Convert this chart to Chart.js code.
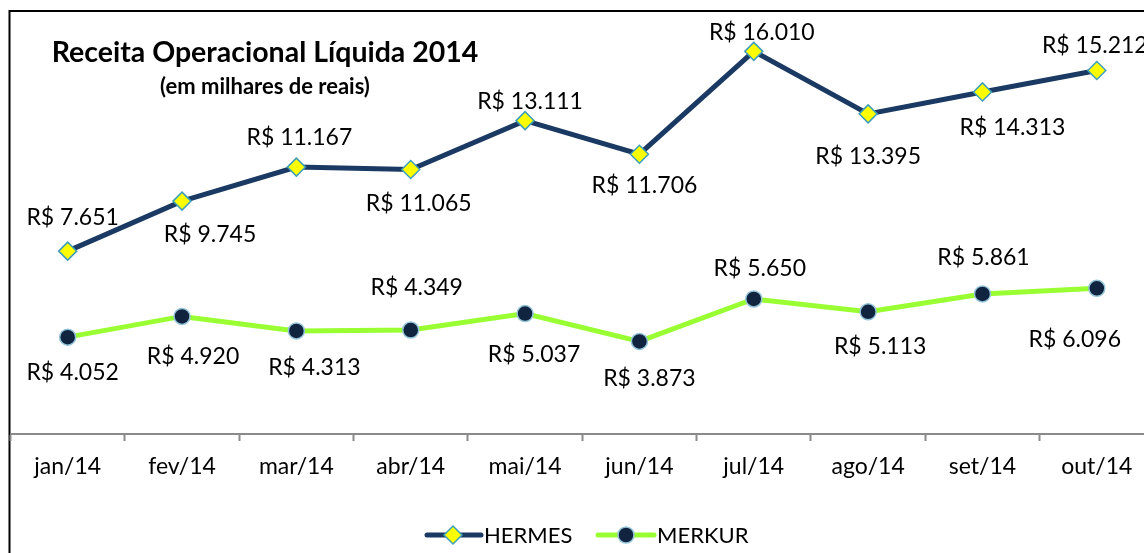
<!DOCTYPE html>
<html>
<head>
<meta charset="utf-8">
<script src="https://cdn.jsdelivr.net/npm/chart.js@4.4.1/dist/chart.umd.min.js"></script>
<style>
  html, body { margin: 0; padding: 0; background: #fff; overflow: hidden; width: 1144px; height: 553px; }
  #wrap { position: absolute; left: 0; top: 0; width: 1170px; height: 600px; }
</style>
</head>
<body>
<div id="wrap"><canvas id="c" width="1170" height="600"></canvas></div>
<script>
// ---- data ----
const categories = ['jan/14','fev/14','mar/14','abr/14','mai/14','jun/14','jul/14','ago/14','set/14','out/14'];
const hermes = [7651, 9745, 11167, 11065, 13111, 11706, 16010, 13395, 14313, 15212];
const merkur = [4052, 4920, 4313, 4349, 5037, 3873, 5650, 5113, 5861, 6096];
const seriesNames = ['HERMES', 'MERKUR'];
const titleText = 'Receita Operacional Líquida 2014';
const subtitleText = '(em milhares de reais)';

// ---- label placement (layout only) ----
const hermesLabelOffsets = [[5,-34],[28,33],[3,-30],[8,34],[5,-19],[5,31],[8,-19],[0,43],[30,36],[-2,-25]];
const merkurLabelOffsets = [[5,35],[11,40],[18,37],[6,-42],[9,41],[10,37],[6,-30],[12,35],[1,-36],[-22,51]];

const FONT = 'Lato, "Open Sans", sans-serif';

function fmt(v) {
  return 'R$ ' + v.toLocaleString('de-DE');
}

const decorPlugin = {
  id: 'decor',
  beforeDraw(chart) {
    const ctx = chart.ctx;
    ctx.save();
    ctx.fillStyle = '#fff';
    ctx.fillRect(0, 0, chart.width, chart.height);
    ctx.strokeStyle = '#000';
    ctx.lineWidth = 2;
    ctx.strokeRect(9.5, 11, 1300, 800);
    ctx.restore();
  },
  afterDraw(chart) {
    const ctx = chart.ctx;
    ctx.save();
    // title
    ctx.fillStyle = '#000';
    ctx.textAlign = 'center';
    ctx.textBaseline = 'middle';
    ctx.font = 'bold 28.5px ' + FONT;
    ctx.fillText(titleText, 265, 53);
    ctx.font = 'bold 22px ' + FONT;
    ctx.fillText(subtitleText, 265, 87);

    // data labels
    ctx.font = '23px ' + FONT;
    const offs = [hermesLabelOffsets, merkurLabelOffsets];
    chart.data.datasets.forEach((ds, di) => {
      const meta = chart.getDatasetMeta(di);
      meta.data.forEach((pt, i) => {
        const o = offs[di][i];
        ctx.fillText(fmt(ds.data[i]), pt.x + o[0], pt.y + o[1]);
      });
    });

    // legend
    const ly = 535;
    const items = [
      {x0: 427, x1: 481, mx: 453, tx: 484, ds: chart.data.datasets[0]},
      {x0: 598, x1: 654, mx: 626, tx: 657, ds: chart.data.datasets[1]}
    ];
    items.forEach(it => {
      ctx.strokeStyle = it.ds.borderColor;
      ctx.lineWidth = it.ds.borderWidth;
      ctx.lineCap = 'round';
      ctx.beginPath();
      ctx.moveTo(it.x0, ly);
      ctx.lineTo(it.x1, ly);
      ctx.stroke();
      ctx.fillStyle = it.ds.pointBackgroundColor;
      ctx.strokeStyle = it.ds.pointBorderColor;
      ctx.lineWidth = it.ds.pointBorderWidth;
      Chart.helpers.drawPoint(ctx, {pointStyle: it.ds.pointStyle, radius: it.ds.pointRadius, rotation: 0, borderWidth: it.ds.pointBorderWidth}, it.mx, ly);
      ctx.fillStyle = '#000';
      ctx.textAlign = 'left';
      ctx.font = '22px ' + FONT;
      ctx.fillText(it.ds.label, it.tx, ly + 1);
    });
    ctx.restore();
  }
};

new Chart(document.getElementById('c'), {
  type: 'line',
  data: {
    labels: categories,
    datasets: [
      {
        label: seriesNames[0],
        data: hermes,
        borderColor: '#1B3A63',
        borderWidth: 5,
        pointStyle: 'rectRot',
        pointRadius: 9,
        pointBackgroundColor: '#FFFF00',
        pointBorderColor: '#3E9EBA',
        pointBorderWidth: 1.5,
        pointHoverRadius: 9,
        tension: 0
      },
      {
        label: seriesNames[1],
        data: merkur,
        borderColor: '#99FF33',
        borderWidth: 5,
        pointStyle: 'circle',
        pointRadius: 8,
        pointBackgroundColor: '#10243F',
        pointBorderColor: '#93C3D8',
        pointBorderWidth: 1.5,
        pointHoverRadius: 8,
        tension: 0
      }
    ]
  },
  options: {
    responsive: false,
    animation: false,
    events: [],
    layout: { padding: { left: 9, right: 16, top: 4, bottom: 106 } },
    plugins: {
      legend: { display: false },
      title: { display: false },
      tooltip: { enabled: false }
    },
    scales: {
      x: {
        offset: true,
        grid: {
          offset: true,
          drawOnChartArea: false,
          drawTicks: true,
          tickLength: 7,
          tickWidth: 2,
          tickColor: '#8A8A8A'
        },
        border: { display: true, color: '#8A8A8A', width: 2 },
        ticks: {
          color: '#000',
          font: { family: FONT, size: 23 },
          padding: 12,
          maxRotation: 0,
          autoSkip: false
        },
        afterFit(scale) { scale.height = 60; }
      },
      y: {
        display: false,
        min: 0,
        max: 17720
      }
    }
  },
  plugins: [decorPlugin]
});
</script>
</body>
</html>
